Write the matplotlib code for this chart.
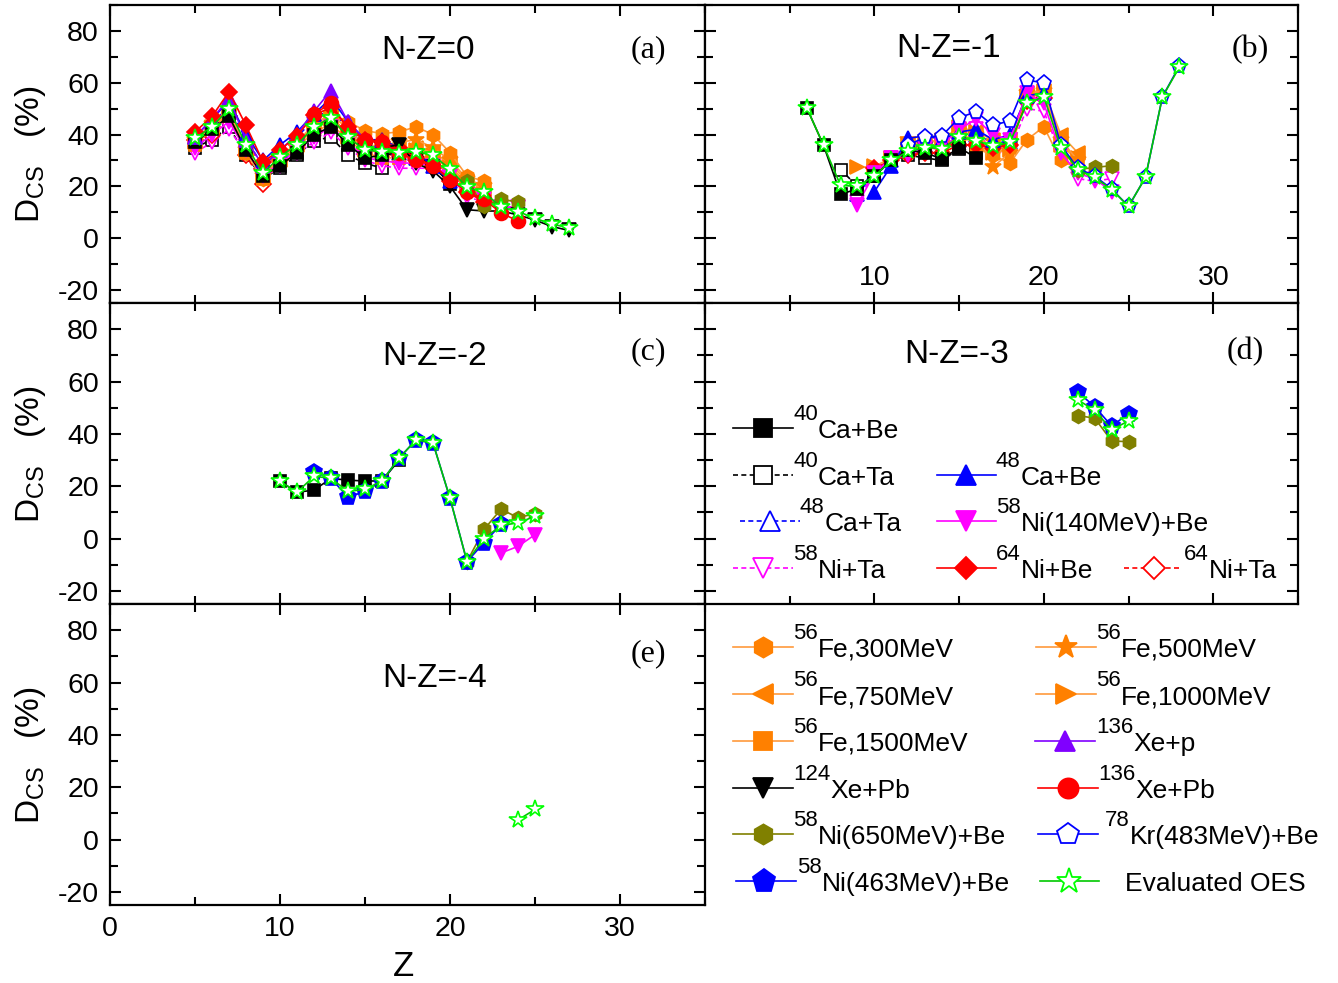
import numpy as np
import matplotlib
matplotlib.use('Agg')
import matplotlib.pyplot as plt
from matplotlib.lines import Line2D
from matplotlib.ticker import MultipleLocator, FixedLocator

plt.rcParams['font.family'] = ['Liberation Sans', 'DejaVu Sans']
plt.rcParams['mathtext.fontset'] = 'custom'
plt.rcParams['mathtext.rm'] = 'Liberation Sans'
plt.rcParams['mathtext.it'] = 'Liberation Sans'
plt.rcParams['axes.unicode_minus'] = False

# ---------------- data: panel (a) N-Z=0 ----------------
a_OES_Z = list(range(5, 28))
a_OES = [38.5, 43, 50, 36, 25, 31.5, 36, 43, 46.5, 39, 34, 33.4, 33, 33.4, 32, 26.7, 19.6, 17.7, 12, 10.3, 7.7, 5.4, 4.1]
a_CaBe40_Z = list(range(5, 21))
a_CaBe40 = [37, 42, 47, 34, 24, 28, 33, 40, 43, 36, 31, 32, 33, 32, 28, 21]
a_CaTa40_Z = list(range(5, 17))
a_CaTa40 = [35, 38, 43, 32, 23, 27, 32, 37.7, 39, 32, 29, 27]
a_CaBe48_Z = list(range(5, 21))
a_CaBe48 = [39, 46, 53, 40, 30, 36, 41, 48, 54, 45, 38, 38, 35, 33, 28, 22]
a_CaTa48_Z = list(range(5, 19))
a_CaTa48 = [38, 44, 51, 38, 28, 34, 39, 46, 50, 42, 36, 35, 33, 31]
a_Ni140_Z = list(range(5, 25))
a_Ni140 = [35, 40, 45, 34, 24, 29, 34, 39, 43, 37, 31, 30, 29, 29, 28, 24, 17, 15, 12, 12]
a_NiTa58_Z = list(range(5, 25))
a_NiTa58 = [33, 37, 42, 33, 23, 28, 33, 37, 41, 35, 30, 28, 27, 27, 27, 24, 16, 14, 12, 12]
a_NiBe64_Z = list(range(5, 23))
a_NiBe64 = [41, 47, 56.5, 43.5, 29.5, 34, 39.5, 47.5, 50.5, 43, 38, 37, 35, 31, 28, 23, 18, 14]
a_NiTa64_Z = list(range(5, 21))
a_NiTa64 = [38, 40, 47, 32, 21, 30, 36, 44, 47, 40, 35, 34, 32, 30, 27, 22]
a_Fe_Z = list(range(5, 23))
a_Fe300 = [37, 43, 49, 33, 23, 31, 37, 43, 47, 45, 41.5, 40.4, 41, 43, 40, 33, 24, 22]
a_Fe500 = [38, 44, 50, 34, 24, 31, 37, 44, 48, 42, 36, 35, 37, 38, 35, 30, 23, 20]
a_Fe750 = [37, 43, 49, 34, 24, 30, 36, 43, 47, 40, 35, 34, 35, 35, 33, 29, 22, 19]
a_Fe1000 = [37, 43, 48, 34, 24, 30, 36, 42, 46, 39, 34, 33, 34, 34, 32, 28, 21, 18]
a_Fe1500 = [36, 42, 47, 33, 23, 29, 35, 41, 44, 38, 33, 31, 31, 32, 31, 27, 21, 18]
a_Xep136_Z = list(range(5, 17))
a_Xep136 = [39, 46, 54, 38, 28, 34, 40, 49, 57, 45, 38, 37]
a_XePb124_Z = list(range(15, 28))
a_XePb124 = [34, 35, 36, 29, 26, 20, 11, 10.5, 10.5, 9, 7, 4.5, 3]
a_XePb136_Z = list(range(12, 25))
a_XePb136 = [48, 52, 42, 38, 37, 33, 30, 28, 22.6, 18, 15, 9.8, 6.6]
a_Ni650_Z = [21, 22, 23, 24]
a_Ni650 = [22, 12.4, 15, 14]

# ---------------- data: panel (b) N-Z=-1 ----------------
b_OES_Z = list(range(6, 29))
b_OES = [50.4, 35.8, 20.4, 20, 24, 30, 33.5, 35, 34.6, 39, 37.7, 35.4, 37, 52, 54.6, 35, 26.5, 23.5, 18.8, 12.3, 23.5, 54.6, 66]
b_Kr78_Z = list(range(12, 29))
b_Kr78 = [36, 39, 39.6, 46.5, 48.8, 43.5, 45.4, 61, 60, 36, 27, 24, 19, 12.3, 23.5, 54.6, 66.5]
b_CaBe40_Z = list(range(6, 17))
b_CaBe40 = [50.4, 35.8, 17, 19, 24, 30, 34, 33, 30.5, 35, 31]
b_CaTa40_Z = list(range(8, 17))
b_CaTa40 = [26.5, 20, 24, 30, 32, 31, 30, 34.6, 33]
b_CaBe48_Z = list(range(10, 21))
b_CaBe48 = [18, 28, 38.5, 39.6, 38, 41, 42, 38, 40, 55, 56]
b_CaTa48_Z = list(range(9, 19))
b_CaTa48 = [17, 25, 30, 35, 36, 35, 38, 40, 37, 37]
b_Ni140_Z = list(range(9, 25))
b_Ni140 = [13, 25, 31, 32, 35, 36, 42, 46, 40, 38, 56, 52, 33, 25, 23, 18]
b_NiTa58_Z = list(range(9, 25))
b_NiTa58 = [14, 26, 31, 32, 34, 35, 40, 42, 33, 34, 50, 49, 32, 23, 22, 23]
b_NiBe64_Z = list(range(10, 21))
b_NiBe64 = [27, 30, 32, 33, 33, 36, 36, 35, 36, 53, 54]
b_Fe300_Z = list(range(16, 23))
b_Fe300 = [35, 32, 29, 38, 43, 30, 27]
b_Fe_Z = list(range(12, 23))
b_Fe500 = [38, 36, 35, 38, 40, 27.5, 33, 56, 57, 38, 30]
b_Fe750 = [36, 37, 38, 42, 41, 38, 38, 56, 57, 40, 33]
b_Fe1500 = [35, 35, 35, 38, 38, 33, 35, 54, 56, 36, 30]
b_Fe1000_Z = list(range(9, 23))
b_Fe1000 = [27.3, 27.7, 31, 36, 37, 38, 43, 41, 33, 34, 55, 57, 36, 31]
b_Ni650_Z = [22, 23, 24]
b_Ni650 = [26.5, 27.3, 28]
b_xticks = [10, 20, 30]

# ---------------- data: panel (c) N-Z=-2 ----------------
c_OES_Z = list(range(10, 26))
c_OES = [21.9, 17.7, 23.8, 23, 18, 18.8, 22, 30.7, 37.7, 36.5, 15.4, -8.8, 0, 5, 6, 8.5]
c_Ni463_Z = list(range(12, 24))
c_Ni463 = [25.4, 23, 15.8, 18, 22, 30.7, 37.7, 36.5, 15.4, -8.8, -1.6, 5.4]
c_CaBe40_Z = list(range(10, 18))
c_CaBe40 = [21.9, 17.7, 18.5, 23, 22.3, 22, 22, 30]
c_Ni650_Z = [21, 22, 23, 24, 25]
c_Ni650 = [-8.8, 3.5, 11.2, 8, 9.5]
c_Ni140_Z = [23, 24, 25]
c_Ni140 = [-5.5, -3, 1.5]

# ---------------- data: panel (d) N-Z=-3 ----------------
d_Z = [22, 23, 24, 25]
d_Ni463 = [56, 50.4, 43, 47.7]
d_OES = [53, 49, 41.5, 45]
d_Ni650 = [47, 46, 37.3, 37]

# ---------------- data: panel (e) N-Z=-4 ----------------
e_Z = [24, 25]
e_OES = [7.5, 11.5]

# ---------------- styles ----------------
OR = '#FF8000'
ORL = '#FF9A3C'
S = {
    'CaBe40': dict(c='k', lc='k', m='s', f='k', ls='-', ms=9),
    'CaTa40': dict(c='k', lc='k', m='s', f='white', ls='--', ms=9),
    'CaBe48': dict(c='#0000FF', lc='#0000FF', m='^', f='#0000FF', ls='-', ms=10),
    'CaTa48': dict(c='#0000FF', lc='#0000FF', m='^', f='white', ls='--', ms=10),
    'Ni140': dict(c='#FF00FF', lc='#FF00FF', m='v', f='#FF00FF', ls='-', ms=10),
    'NiTa58': dict(c='#FF00FF', lc='#FF00FF', m='v', f='white', ls='--', ms=10),
    'NiBe64': dict(c='#FF0000', lc='#FF0000', m='D', f='#FF0000', ls='-', ms=8),
    'NiTa64': dict(c='#FF0000', lc='#FF0000', m='D', f='white', ls='--', ms=8),
    'Fe300': dict(c=OR, lc=ORL, m='h', f=OR, ls='-', ms=10),
    'Fe500': dict(c=OR, lc=ORL, m='*', f=OR, ls='-', ms=12),
    'Fe750': dict(c=OR, lc=ORL, m='<', f=OR, ls='-', ms=10),
    'Fe1000': dict(c=OR, lc=ORL, m='>', f=OR, ls='-', ms=10),
    'Fe1500': dict(c=OR, lc=ORL, m='s', f=OR, ls='-', ms=9),
    'Xep136': dict(c='#8000FF', lc='#8000FF', m='^', f='#8000FF', ls='-', ms=10),
    'XePb124': dict(c='k', lc='k', m='v', f='k', ls='-', ms=10),
    'XePb136': dict(c='#FF0000', lc='#FF0000', m='o', f='#FF0000', ls='-', ms=10),
    'Ni650': dict(c='#808000', lc='#808000', m='h', f='#808000', ls='-', ms=10),
    'Kr78': dict(c='#0000FF', lc='#0000FF', m='p', f='white', ls='-', ms=11),
    'Ni463': dict(c='#0000FF', lc='#0000FF', m='p', f='#0000FF', ls='-', ms=12),
    'OES': dict(c='#00FF00', lc='#00C800', m='*', f='white', ls='-', ms=13),
}


def draw(ax, key, Z, D, z=3):
    st = S[key]
    kw = {}
    if st['ls'] == '--':
        kw['dashes'] = (3, 2)
    ax.plot(Z, D, ls=st['ls'], color=st['lc'], lw=1.2, marker=st['m'], ms=st['ms'],
            mfc=st['f'], mec=st['c'], mew=1.2, zorder=z, **kw)


W_PX, H_PX = 1338, 983
fig = plt.figure(figsize=(W_PX / 100, H_PX / 100), dpi=100)


def rect(x0, y0, x1, y1):
    return [x0 / W_PX, 1 - y1 / H_PX, (x1 - x0) / W_PX, (y1 - y0) / H_PX]


axA = fig.add_axes(rect(110, 5, 705, 303))
axB = fig.add_axes(rect(705, 5, 1298, 303))
axC = fig.add_axes(rect(110, 303, 705, 604))
axD = fig.add_axes(rect(705, 303, 1298, 604))
axE = fig.add_axes(rect(110, 604, 705, 905))
axL = fig.add_axes(rect(705, 604, 1298, 905))
axL.axis('off')

for ax in (axA, axB, axC, axD, axE):
    ax.set_xlim(0, 35)
    ax.set_ylim(-25, 90)
    ax.xaxis.set_major_locator(MultipleLocator(10))
    ax.xaxis.set_minor_locator(MultipleLocator(5))
    ax.yaxis.set_major_locator(MultipleLocator(20))
    ax.yaxis.set_minor_locator(MultipleLocator(10))
    ax.tick_params(which='both', direction='in', top=True, right=True, width=1.5)
    ax.tick_params(which='major', length=8, labelsize=20.5, pad=8)
    ax.tick_params(which='minor', length=6)
    for sp in ax.spines.values():
        sp.set_linewidth(1.6)
    ax.tick_params(labelbottom=False, labelleft=False)

for ax in (axA, axC, axE):
    ax.tick_params(labelleft=True)
axE.tick_params(labelbottom=True)
axB.xaxis.set_major_locator(FixedLocator(b_xticks))
axB.tick_params(labelbottom=True, axis='x', which='major', pad=-27)

# panel (a)
draw(axA, 'CaTa40', a_CaTa40_Z, a_CaTa40)
draw(axA, 'CaTa48', a_CaTa48_Z, a_CaTa48)
draw(axA, 'NiTa58', a_NiTa58_Z, a_NiTa58)
draw(axA, 'NiTa64', a_NiTa64_Z, a_NiTa64)
draw(axA, 'Fe1500', a_Fe_Z, a_Fe1500)
draw(axA, 'Fe1000', a_Fe_Z, a_Fe1000)
draw(axA, 'Fe750', a_Fe_Z, a_Fe750)
draw(axA, 'Fe500', a_Fe_Z, a_Fe500)
draw(axA, 'Fe300', a_Fe_Z, a_Fe300)
draw(axA, 'Ni140', a_Ni140_Z, a_Ni140)
draw(axA, 'CaBe40', a_CaBe40_Z, a_CaBe40)
draw(axA, 'CaBe48', a_CaBe48_Z, a_CaBe48)
draw(axA, 'Xep136', a_Xep136_Z, a_Xep136)
draw(axA, 'NiBe64', a_NiBe64_Z, a_NiBe64)
draw(axA, 'XePb124', a_XePb124_Z, a_XePb124)
draw(axA, 'Ni650', a_Ni650_Z, a_Ni650)
draw(axA, 'XePb136', a_XePb136_Z, a_XePb136, z=4)
draw(axA, 'OES', a_OES_Z, a_OES, z=5)

# panel (b)
draw(axB, 'CaTa40', b_CaTa40_Z, b_CaTa40)
draw(axB, 'CaTa48', b_CaTa48_Z, b_CaTa48)
draw(axB, 'NiTa58', b_NiTa58_Z, b_NiTa58)
draw(axB, 'Fe1500', b_Fe_Z, b_Fe1500)
draw(axB, 'Fe1000', b_Fe1000_Z, b_Fe1000)
draw(axB, 'Fe750', b_Fe_Z, b_Fe750)
draw(axB, 'Fe500', b_Fe_Z, b_Fe500)
draw(axB, 'Fe300', b_Fe300_Z, b_Fe300)
draw(axB, 'NiBe64', b_NiBe64_Z, b_NiBe64)
draw(axB, 'CaBe48', b_CaBe48_Z, b_CaBe48)
draw(axB, 'Ni140', b_Ni140_Z, b_Ni140)
draw(axB, 'CaBe40', b_CaBe40_Z, b_CaBe40)
draw(axB, 'Ni650', b_Ni650_Z, b_Ni650)
draw(axB, 'Kr78', b_Kr78_Z, b_Kr78, z=4)
draw(axB, 'OES', b_OES_Z, b_OES, z=5)

# panel (c)
draw(axC, 'CaBe40', c_CaBe40_Z, c_CaBe40)
draw(axC, 'Ni650', c_Ni650_Z, c_Ni650)
draw(axC, 'Ni140', c_Ni140_Z, c_Ni140)
draw(axC, 'Ni463', c_Ni463_Z, c_Ni463, z=4)
draw(axC, 'OES', c_OES_Z, c_OES, z=5)

# panel (d)
draw(axD, 'Ni650', d_Z, d_Ni650)
draw(axD, 'Ni463', d_Z, d_Ni463, z=4)
draw(axD, 'OES', d_Z, d_OES, z=5)

# panel (e)
draw(axE, 'OES', e_Z, e_OES, z=5)

# titles and panel letters
titles = [(axA, 'N-Z=0', 0.534, 0.848, 0.904, 0.849, '(a)'),
          (axB, 'N-Z=-1', 0.41, 0.855, 0.919, 0.849, '(b)'),
          (axC, 'N-Z=-2', 0.545, 0.822, 0.904, 0.837, '(c)'),
          (axD, 'N-Z=-3', 0.425, 0.829, 0.911, 0.837, '(d)'),
          (axE, 'N-Z=-4', 0.545, 0.752, 0.904, 0.834, '(e)')]
for ax, t, tx, ty, lx, ly, lt in titles:
    ax.text(tx, ty, t, transform=ax.transAxes, fontsize=24, ha='center', va='center')
    ax.text(lx, ly, lt, transform=ax.transAxes, fontsize=23, ha='center', va='center',
            family=['Liberation Serif', 'DejaVu Serif'])

# y labels and x label
for yc in (154, 454, 755):
    fig.text(30 / W_PX, 1 - yc / H_PX, r'D$_{\mathregular{CS}}$   (%)', rotation=90,
             fontsize=24, ha='center', va='center')
fig.text(403 / W_PX, 1 - 966 / H_PX, 'Z', fontsize=25, ha='center', va='center')

renderer = fig.canvas.get_renderer()


def leg_entry(ax, key, x0, x1, xm, y, xt, sup, main):
    hpx = ax.bbox.height
    wpx = ax.bbox.width
    fx = lambda p: (p - 705) / wpx
    st = S[key]
    kw = {}
    if st['ls'] == '--':
        kw['dashes'] = (3, 2)
    ax.add_line(Line2D([fx(x0), fx(x1)], [y, y], transform=ax.transAxes, color=st['lc'],
                       lw=1.2, clip_on=False, zorder=6, **kw))
    ax.add_line(Line2D([fx(xm)], [y], transform=ax.transAxes, ls='none', marker=st['m'],
                       ms=st['ms'] * 1.45, mfc=st['f'], mec=st['c'], mew=1.3,
                       clip_on=False, zorder=7))
    xs = fx(xt)
    if sup:
        t1 = ax.text(xs, y + 8 / hpx, sup, transform=ax.transAxes, fontsize=16,
                     ha='left', va='baseline')
        xs += t1.get_window_extent(renderer).width / wpx
    ax.text(xs, y - 10 / hpx, main, transform=ax.transAxes, fontsize=19,
            ha='left', va='baseline')


def ry(py, top=303):
    return (top + 301 - py) / 301

# legend inside (d)
leg_entry(axD, 'CaBe40', 733, 793, 763, ry(428), 793, '40', 'Ca+Be')
leg_entry(axD, 'CaTa40', 733, 793, 763, ry(475), 793, '40', 'Ca+Ta')
leg_entry(axD, 'CaBe48', 937, 996, 966, ry(475), 996, '48', 'Ca+Be')
leg_entry(axD, 'CaTa48', 740, 800, 770, ry(521), 800, '48', 'Ca+Ta')
leg_entry(axD, 'Ni140', 937, 996, 966, ry(521), 996, '58', 'Ni(140MeV)+Be')
leg_entry(axD, 'NiTa58', 733, 793, 763, ry(568), 793, '58', 'Ni+Ta')
leg_entry(axD, 'NiBe64', 937, 996, 966, ry(568), 996, '64', 'Ni+Be')
leg_entry(axD, 'NiTa64', 1124, 1182, 1154, ry(568), 1184, '64', 'Ni+Ta')


def ryl(py):
    return (905 - py) / 301

leg_entry(axL, 'Fe300', 733, 793, 763, ryl(647), 793, '56', 'Fe,300MeV')
leg_entry(axL, 'Fe500', 1036, 1096, 1066, ryl(647), 1096, '56', 'Fe,500MeV')
leg_entry(axL, 'Fe750', 733, 793, 763, ryl(694), 793, '56', 'Fe,750MeV')
leg_entry(axL, 'Fe1000', 1036, 1096, 1066, ryl(694), 1096, '56', 'Fe,1000MeV')
leg_entry(axL, 'Fe1500', 733, 793, 763, ryl(741), 793, '56', 'Fe,1500MeV')
leg_entry(axL, 'Xep136', 1035, 1095, 1065, ryl(741), 1096, '136', 'Xe+p')
leg_entry(axL, 'XePb124', 733, 793, 763, ryl(788), 793, '124', 'Xe+Pb')
leg_entry(axL, 'XePb136', 1038, 1098, 1068, ryl(788), 1098, '136', 'Xe+Pb')
leg_entry(axL, 'Ni650', 733, 793, 763, ryl(834), 793, '58', 'Ni(650MeV)+Be')
leg_entry(axL, 'Kr78', 1038, 1098, 1068, ryl(834), 1105, '78', 'Kr(483MeV)+Be')
leg_entry(axL, 'Ni463', 736, 796, 764, ryl(881), 797, '58', 'Ni(463MeV)+Be')
leg_entry(axL, 'OES', 1040, 1099, 1069, ryl(881), 1125, '', 'Evaluated OES')

fig.savefig('out.png', dpi=100)
